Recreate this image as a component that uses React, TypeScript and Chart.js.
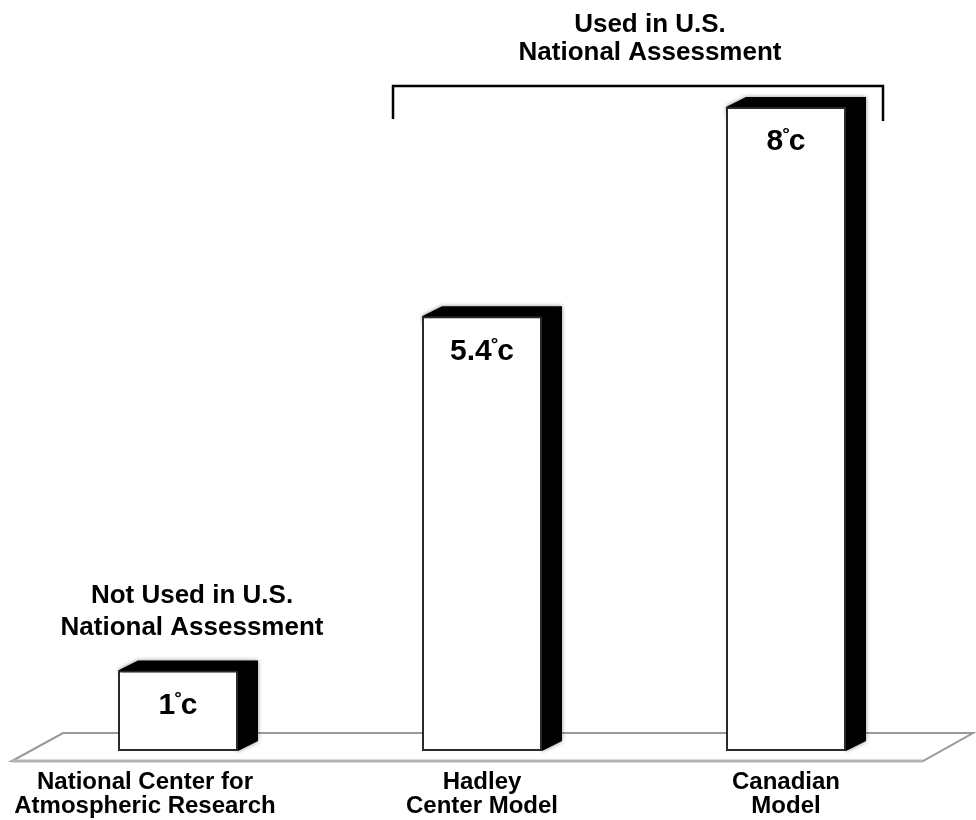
import React, { useEffect, useRef } from "react";
import { Chart, registerables } from "chart.js";

Chart.register(...registerables);

const categories: string[][] = [
  ["National Center for", "Atmospheric Research"],
  ["Hadley", "Center Model"],
  ["Canadian", "Model"],
];
const warming: number[] = [1, 5.4, 8];
const valueLabels: string[] = ["1", "5.4", "8"];
const usedNote: string[] = ["Used in U.S.", "National Assessment"];
const notUsedNote: string[] = ["Not Used in U.S.", "National Assessment"];
const yMax = 9;

const FONT = "'Liberation Sans', Arial, Helvetica, sans-serif";
const DX = 20;
const DY = -10;

const threeD = {
  id: "threeD",
  beforeDatasetsDraw(chart: any) {
    const ctx = chart.ctx;
    const ca = chart.chartArea;
    const base = chart.scales.y.getPixelForValue(0);
    // floor
    ctx.save();
    ctx.beginPath();
    ctx.moveTo(ca.left - 14, base + 10);
    ctx.lineTo(ca.left + 37, base - 18);
    ctx.lineTo(ca.right + 35, base - 18);
    ctx.lineTo(ca.right - 15, base + 10);
    ctx.closePath();
    ctx.fillStyle = "#ffffff";
    ctx.fill();
    ctx.lineWidth = 2;
    ctx.strokeStyle = "#9a9a9a";
    ctx.stroke();
    ctx.beginPath();
    ctx.moveTo(ca.left - 14, base + 10);
    ctx.lineTo(ca.right - 15, base + 10);
    ctx.lineWidth = 3;
    ctx.strokeStyle = "#b4b4b4";
    ctx.stroke();
    ctx.restore();

    // side and top faces
    const meta = chart.getDatasetMeta(0);
    meta.data.forEach((bar: any) => {
      const w = bar.width;
      const l = bar.x - w / 2;
      const r = bar.x + w / 2;
      const t = bar.y;
      const b = bar.base;
      ctx.save();
      ctx.shadowColor = "rgba(0,0,0,0.45)";
      ctx.shadowBlur = 4;
      ctx.fillStyle = "#000000";
      ctx.beginPath();
      ctx.moveTo(l, t);
      ctx.lineTo(l + DX, t + DY);
      ctx.lineTo(r + DX, t + DY);
      ctx.lineTo(r + DX, b + DY);
      ctx.lineTo(r, b);
      ctx.closePath();
      ctx.fill();
      ctx.restore();
    });
  },
  afterDatasetsDraw(chart: any) {
    const ctx = chart.ctx;
    const meta = chart.getDatasetMeta(0);
    const bars = meta.data;
    ctx.save();
    ctx.fillStyle = "#000000";
    ctx.textBaseline = "middle";
    // value labels
    bars.forEach((bar: any, i: number) => {
      const big = `bold 30px ${FONT}`;
      const small = `bold 19px ${FONT}`;
      const num = valueLabels[i];
      ctx.font = big;
      const wNum = ctx.measureText(num).width;
      const wC = ctx.measureText("c").width;
      ctx.font = small;
      const wDeg = ctx.measureText("°").width * 0.75;
      const total = wNum + wDeg + wC;
      let x = bar.x - total / 2;
      const y = bar.y + 35;
      ctx.textAlign = "left";
      ctx.font = big;
      ctx.fillText(num, x, y);
      x += wNum;
      ctx.font = small;
      ctx.fillText("°", x - 1, y - 7);
      x += wDeg;
      ctx.font = big;
      ctx.fillText("c", x, y);
    });

    // category labels (first one sits left of its bar, as in the original)
    const xs = chart.scales.x;
    ctx.textAlign = "center";
    ctx.textBaseline = "middle";
    ctx.font = `bold 24px ${FONT}`;
    categories.forEach((lines, i) => {
      const cx = xs.getPixelForTick(i) + (i === 0 ? -33 : 0);
      lines.forEach((ln, j) => {
        ctx.fillText(ln, cx, xs.top + 31 + j * 24);
      });
    });

    // used bracket + note
    const b2 = bars[1];
    const b3 = bars[2];
    const bracketY = b3.y - 21;
    const bl = b2.x - b2.width / 2 - 29;
    const br = b3.x + b3.width / 2 + DX + 17;
    ctx.beginPath();
    ctx.moveTo(bl, bracketY + 33);
    ctx.lineTo(bl, bracketY);
    ctx.lineTo(br, bracketY);
    ctx.lineTo(br, bracketY + 35);
    ctx.lineWidth = 2.5;
    ctx.strokeStyle = "#000000";
    ctx.stroke();

    ctx.font = `bold 26px ${FONT}`;
    const ux = (b2.x + b3.x) / 2 + 16;
    ctx.fillText(usedNote[0], ux, bracketY - 61);
    ctx.fillText(usedNote[1], ux, bracketY - 33);

    const b1 = bars[0];
    ctx.fillText(notUsedNote[0], b1.x + 14, b1.y - 75);
    ctx.fillText(notUsedNote[1], b1.x + 14, b1.y - 43);
    ctx.restore();
  },
};

export default function App() {
  const ref = useRef<HTMLCanvasElement>(null);
  useEffect(() => {
    if (!ref.current) return;
    const chart = new Chart(ref.current, {
      type: "bar",
      data: {
        labels: categories,
        datasets: [
          {
            data: warming,
            backgroundColor: "#ffffff",
            borderColor: "#2a2a2a",
            borderWidth: 2,
            borderSkipped: false,
            categoryPercentage: 120 / 304,
            barPercentage: 1,
          },
        ],
      },
      options: {
        responsive: false,
        animation: false,
        devicePixelRatio: 1,
        layout: { padding: { left: 26, right: 38, top: 751 - 80.5 * yMax, bottom: 2 } },
        scales: {
          y: { display: false, min: 0, max: yMax },
          x: {
            grid: { display: false, drawTicks: false },
            border: { display: false },
            afterFit: (scale: any) => {
              scale.height = 67;
            },
            ticks: { display: false },
          },
        },
        plugins: { legend: { display: false }, tooltip: { enabled: false } },
      },
      plugins: [threeD],
    });
    return () => chart.destroy();
  }, []);
  return (
    <div style={{ position: "absolute", left: 0, top: 0, width: 976, height: 820, background: "#fff" }}>
      <canvas ref={ref} width={976} height={820} style={{ width: 976, height: 820 }} />
    </div>
  );
}
